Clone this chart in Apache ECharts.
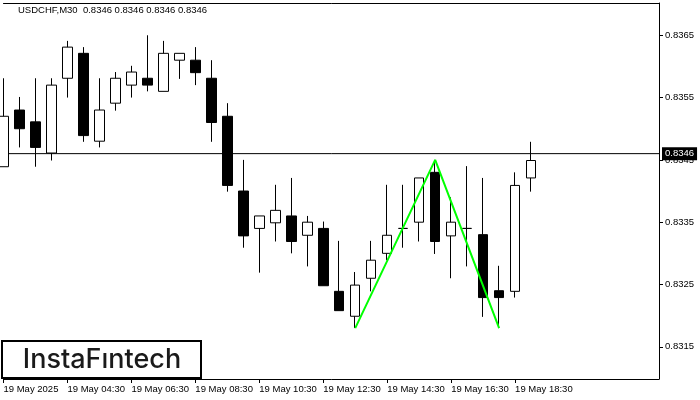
<!DOCTYPE html>
<html><head><meta charset="utf-8">
<script src="https://cdn.jsdelivr.net/npm/echarts@6/dist/echarts.min.js"></script>
<style>html,body{margin:0;padding:0;background:#fff}#c{width:700px;height:400px}</style>
</head><body><div id="c"></div>
<script>
const categories = ['02:30','03:00','03:30','04:00','04:30','05:00','05:30','06:00','06:30','07:00','07:30','08:00','08:30','09:00','09:30','10:00','10:30','11:00','11:30','12:00','12:30','13:00','13:30','14:00','14:30','15:00','15:30','16:00','16:30','17:00','17:30','18:00','18:30','19:00'];
const opens  = [0.83439,0.83530,0.83511,0.83461,0.83581,0.83621,0.83480,0.83541,0.83570,0.83581,0.83560,0.83610,0.83610,0.83581,0.83520,0.83400,0.83340,0.83349,0.83360,0.83329,0.83340,0.83239,0.83199,0.83260,0.83300,0.83340,0.83350,0.83430,0.83328,0.83340,0.83330,0.83240,0.83239,0.83421];
const closes = [0.83520,0.83500,0.83470,0.83570,0.83631,0.83489,0.83530,0.83581,0.83591,0.83570,0.83621,0.83621,0.83590,0.83510,0.83409,0.83328,0.83360,0.83369,0.83319,0.83350,0.83248,0.83208,0.83249,0.83289,0.83329,0.83340,0.83421,0.83319,0.83350,0.83340,0.83229,0.83229,0.83409,0.83449];
const lows   = [0.83439,0.83470,0.83439,0.83449,0.83550,0.83479,0.83470,0.83529,0.83550,0.83560,0.83560,0.83580,0.83570,0.83479,0.83399,0.83309,0.83269,0.83319,0.83300,0.83279,0.83248,0.83208,0.83180,0.83239,0.83289,0.83309,0.83319,0.83299,0.83260,0.83279,0.83198,0.83180,0.83229,0.83399];
const highs  = [0.83581,0.83551,0.83581,0.83581,0.83641,0.83631,0.83581,0.83591,0.83601,0.83650,0.83641,0.83621,0.83631,0.83610,0.83541,0.83450,0.83360,0.83410,0.83421,0.83360,0.83351,0.83320,0.83270,0.83320,0.83410,0.83410,0.83421,0.83450,0.83390,0.83440,0.83421,0.83280,0.83430,0.83479];
const tickLabels = ['19 May 2025','19 May 04:30','19 May 06:30','19 May 08:30','19 May 10:30','19 May 12:30','19 May 14:30','19 May 16:30','19 May 18:30'];
const priceTicks = [0.8315,0.8325,0.8335,0.8345,0.8355,0.8365];
const currentPrice = 0.8346;
const patternIdx = [22,27,31];
const patternPrices = [0.8318,0.8345,0.8318];
const titleText = 'USDCHF,M30  0.8346 0.8346 0.8346 0.8346';
const logoText = 'InstaF\u0131ntech';

const FONT = "'Liberation Sans', Arial, sans-serif";
const LAST_SLOT = 41;
const candleData = categories.map((c,i)=>[opens[i],closes[i],lows[i],highs[i]]);
const showTick = (idx)=> idx % 4 === 0 && idx/4 < tickLabels.length;

const chart = echarts.init(document.getElementById('c'), null, {renderer:'canvas'});
chart.setOption({
  animation:false,
  backgroundColor:'#fff',
  grid:{left:3.5,right:41,top:3,bottom:21,containLabel:false},
  xAxis:[{
    type:'category', data:categories, boundaryGap:false, max:LAST_SLOT,
    axisLine:{show:true,lineStyle:{color:'#000',width:1}},
    axisTick:{show:true,interval:(i)=>showTick(i),length:4,lineStyle:{color:'#000'}},
    axisLabel:{interval:(i)=>showTick(i),formatter:(v,i)=>showTick(i)?tickLabels[i/4]:'',align:'left',margin:5,fontSize:9.5,fontFamily:FONT,color:'#000'},
    splitLine:{show:false}
  },{
    type:'category', data:categories, boundaryGap:false, max:LAST_SLOT, position:'top',
    axisLine:{show:true,lineStyle:{color:'#000',width:1}},
    axisTick:{show:false}, axisLabel:{show:false}, splitLine:{show:false}
  }],
  yAxis:{
    type:'value', position:'right', min:0.830983, max:0.837018, scale:true,
    axisLine:{show:true,lineStyle:{color:'#000',width:1}},
    axisTick:{show:true,customValues:priceTicks,length:4,lineStyle:{color:'#000'}},
    axisLabel:{customValues:priceTicks,formatter:(v)=>v.toFixed(4),margin:6,fontSize:9.5,fontFamily:FONT,color:'#000'},
    splitLine:{show:false}
  },
  series:[{
    type:'line', data:[[0,currentPrice],[LAST_SLOT,currentPrice]], symbol:'none', z:1, silent:true,
    lineStyle:{color:'#000',width:1}, clip:false,
    endLabel:{show:true,formatter:currentPrice.toFixed(4),backgroundColor:'#000',color:'#fff',padding:[2,3,1,3],distance:3,fontSize:9.5,fontFamily:FONT}
  },{
    type:'candlestick', data:candleData, barWidth:10, z:2,
    itemStyle:{color:'#fff',color0:'#000',borderColor:'#000',borderColor0:'#000',borderWidth:1}
  },{
    type:'line', data:patternIdx.map((x,k)=>[x,patternPrices[k]]), symbol:'none', z:5,
    lineStyle:{color:'#00ff00',width:2}
  }],
  graphic:[
    {type:'text',left:18,top:5,style:{text:titleText,fontSize:9.5,fontFamily:FONT,fill:'#000'}},
    {type:'rect',shape:{x:2,y:341,width:199,height:37},style:{fill:'#fff',stroke:'#000',lineWidth:2},z:10},
    {type:'text',x:102,y:360,z:11,style:{text:logoText,align:'center',verticalAlign:'middle',fontSize:27,fontWeight:500,fontFamily:'Inter, sans-serif',fill:'#1a1a1a'}}
  ]
});
</script></body></html>
